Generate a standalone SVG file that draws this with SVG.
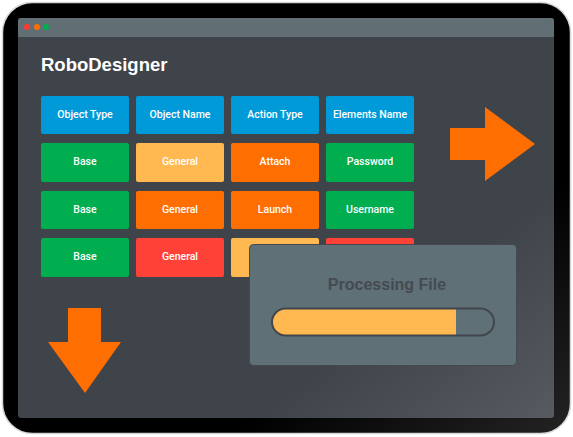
<svg xmlns="http://www.w3.org/2000/svg" width="573" height="437" viewBox="0 0 573 437">
<defs>
<linearGradient id="gloss" x1="0" y1="0" x2="1" y2="1">
<stop offset="0.7" stop-color="#ffffff" stop-opacity="0"/>
<stop offset="1" stop-color="#ffffff" stop-opacity="0.14"/>
</linearGradient>
<style>
.cell text{font-family:Roboto,"Liberation Sans",sans-serif;font-size:10.5px;font-weight:500;fill:#ffffff;text-anchor:middle}
.blue{fill:#009ad8}.green{fill:#00ae50}.lor{fill:#ffb950}.org{fill:#ff6e00}.red{fill:#ff4137}
</style>
</defs>
<g id="device">
<rect x="2.5" y="2.5" width="568" height="431" rx="30" fill="#000" stroke="#d6d6d6" stroke-width="1.5"/>
<rect x="18" y="18" width="536" height="400" rx="3" fill="#3f434a"/>
<path d="M18 37V21a3 3 0 0 1 3-3h530a3 3 0 0 1 3 3v16z" fill="#616f75"/>
<circle cx="27" cy="27" r="3" fill="#ff3b30"/>
<circle cx="37" cy="27" r="3" fill="#ff6e00"/>
<circle cx="46" cy="27" r="3" fill="#00ae50"/>
<text x="41" y="71" font-family="'Liberation Sans',Arial,sans-serif" font-size="18.5" font-weight="bold" fill="#ffffff">RoboDesigner</text>
</g>
<rect x="2.5" y="2.5" width="568" height="431" rx="30" fill="url(#gloss)" pointer-events="none"/>
<g id="grid">
<g class="cell" id="c11"><rect class="blue" x="41" y="96" width="88" height="38" rx="2"/><text x="85" y="118">Object Type</text></g>
<g class="cell" id="c12"><rect class="blue" x="136" y="96" width="88" height="38" rx="2"/><text x="180" y="118">Object Name</text></g>
<g class="cell" id="c13"><rect class="blue" x="231" y="96" width="88" height="38" rx="2"/><text x="275" y="118">Action Type</text></g>
<g class="cell" id="c14"><rect class="blue" x="326" y="96" width="88" height="38" rx="2"/><text x="370" y="118">Elements Name</text></g>
<g class="cell" id="c21"><rect class="green" x="41" y="143" width="88" height="39" rx="2"/><text x="85" y="165">Base</text></g>
<g class="cell" id="c22"><rect class="lor" x="136" y="143" width="88" height="39" rx="2"/><text x="180" y="165">General</text></g>
<g class="cell" id="c23"><rect class="org" x="231" y="143" width="88" height="39" rx="2"/><text x="275" y="165">Attach</text></g>
<g class="cell" id="c24"><rect class="green" x="326" y="143" width="88" height="39" rx="2"/><text x="370" y="165">Password</text></g>
<g class="cell" id="c31"><rect class="green" x="41" y="191" width="88" height="38" rx="2"/><text x="85" y="213">Base</text></g>
<g class="cell" id="c32"><rect class="org" x="136" y="191" width="88" height="38" rx="2"/><text x="180" y="213">General</text></g>
<g class="cell" id="c33"><rect class="org" x="231" y="191" width="88" height="38" rx="2"/><text x="275" y="213">Launch</text></g>
<g class="cell" id="c34"><rect class="green" x="326" y="191" width="88" height="38" rx="2"/><text x="370" y="213">Username</text></g>
<g class="cell" id="c41"><rect class="green" x="41" y="238" width="88" height="39" rx="2"/><text x="85" y="260">Base</text></g>
<g class="cell" id="c42"><rect class="red" x="136" y="238" width="88" height="39" rx="2"/><text x="180" y="260">General</text></g>
<g class="cell" id="c43"><rect class="lor" x="231" y="238" width="88" height="39" rx="2"/></g>
<g class="cell" id="c44"><rect class="red" x="326" y="238" width="88" height="39" rx="2"/></g>
</g>
<g id="arrows">
<polygon points="450,128 485,128 485,107 535,144 485,181 485,160 450,160" fill="#ff6e00"/>
<polygon points="68,308 101,308 101,342 121,342 85,393 48,342 68,342" fill="#ff6e00"/>
</g>
<g id="processing">
<rect x="249.5" y="244.5" width="267" height="121" rx="4" fill="#5f7077" stroke="#454a51" stroke-width="1"/>
<text x="387" y="290" font-family="'Liberation Sans',Arial,sans-serif" font-size="16" font-weight="bold" fill="#454a52" text-anchor="middle">Processing File</text>
<rect x="272" y="308.5" width="222" height="27" rx="13.5" fill="#5f7077"/>
<path d="M285.5 308.5H456V335.5H285.5a13.5 13.5 0 0 1 0-27z" fill="#ffb950"/>
<rect x="272" y="308.5" width="222" height="27" rx="13.5" fill="none" stroke="#41464d" stroke-width="2"/>
</g>
</svg>
